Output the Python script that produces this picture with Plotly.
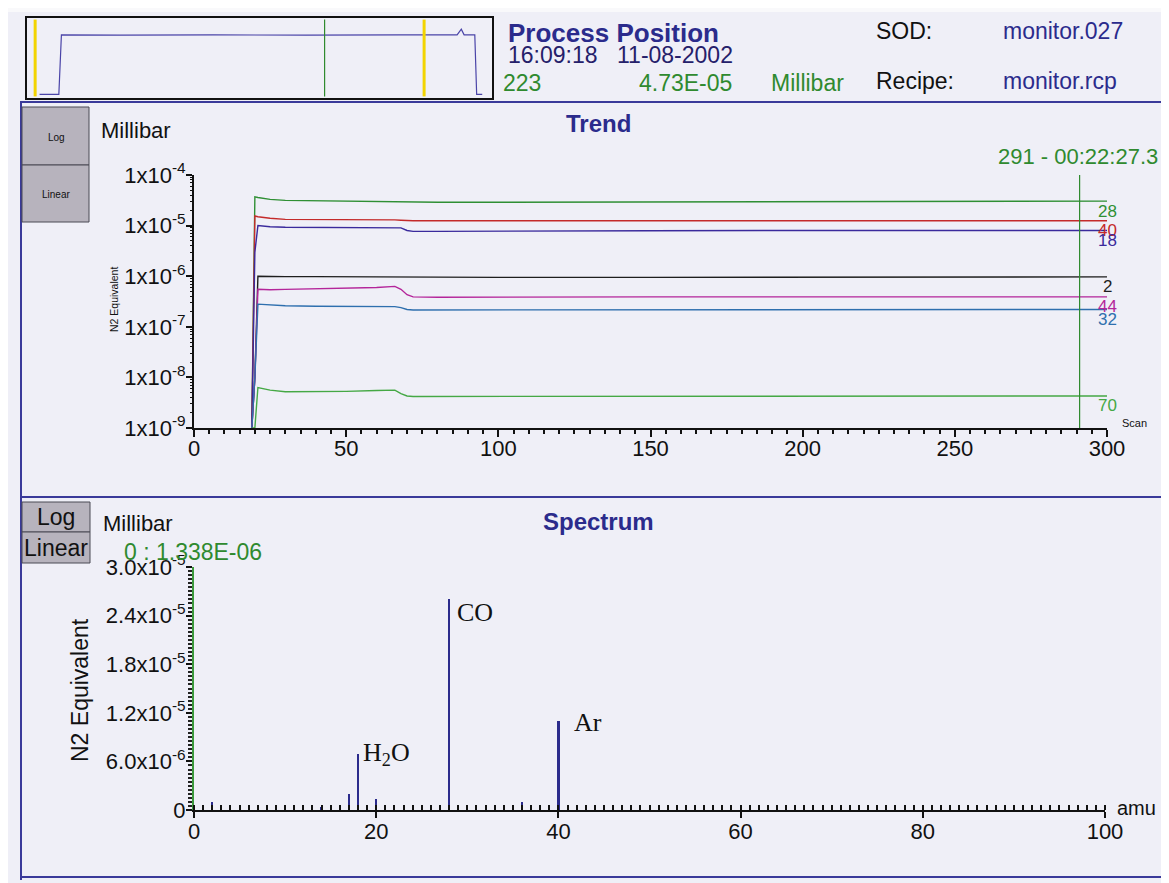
import math
import plotly.graph_objects as go

# browser body margin is 8px: figure placed at (8, 8) inside the window
OFF = 8
W, H = 1169 - 2 * OFF, 883 - OFF

# ---------------- data ----------------
scans = [19, 20, 21, 25, 30, 40, 50, 60, 66, 68, 70, 72, 80, 100, 150, 200, 250, 300]
trend_masses = ["28", "40", "18", "2", "44", "32", "70"]
trend_28 = [1e-9, 3.7e-5, 3.6e-5, 3.3e-5, 3.15e-5, 3.1e-5, 3.05e-5, 3.0e-5, 3.0e-5, 2.95e-5, 2.9e-5, 2.9e-5, 2.9e-5, 2.9e-5, 2.95e-5, 3.0e-5, 3.0e-5, 3.05e-5]
trend_40 = [1e-9, 1.55e-5, 1.5e-5, 1.4e-5, 1.33e-5, 1.33e-5, 1.33e-5, 1.3e-5, 1.3e-5, 1.28e-5, 1.26e-5, 1.25e-5, 1.25e-5, 1.25e-5, 1.25e-5, 1.25e-5, 1.25e-5, 1.25e-5]
trend_18 = [1e-9, 3e-6, 1.0e-5, 9.5e-6, 9.3e-6, 9.3e-6, 9.3e-6, 9.3e-6, 9.3e-6, 9.0e-6, 8.0e-6, 7.7e-6, 7.7e-6, 7.8e-6, 7.9e-6, 8.0e-6, 8.0e-6, 8.0e-6]
trend_2 = [1e-9, 1e-8, 1.0e-6, 9.8e-7, 9.8e-7, 9.8e-7, 9.7e-7, 9.7e-7, 9.7e-7, 9.6e-7, 9.6e-7, 9.6e-7, 9.6e-7, 9.5e-7, 9.5e-7, 9.6e-7, 9.6e-7, 9.7e-7]
trend_44 = [1e-9, 1e-8, 5.5e-7, 5.4e-7, 5.5e-7, 5.6e-7, 5.8e-7, 6.0e-7, 6.3e-7, 5.5e-7, 4.3e-7, 3.9e-7, 3.85e-7, 3.9e-7, 3.9e-7, 3.9e-7, 3.9e-7, 3.9e-7]
trend_32 = [1e-9, 1e-8, 2.8e-7, 2.7e-7, 2.6e-7, 2.55e-7, 2.5e-7, 2.5e-7, 2.5e-7, 2.4e-7, 2.2e-7, 2.15e-7, 2.15e-7, 2.15e-7, 2.15e-7, 2.2e-7, 2.2e-7, 2.2e-7]
trend_70 = [1e-9, 1e-9, 6.3e-9, 5.6e-9, 5.2e-9, 5.2e-9, 5.3e-9, 5.5e-9, 5.6e-9, 4.8e-9, 4.3e-9, 4.2e-9, 4.2e-9, 4.2e-9, 4.3e-9, 4.3e-9, 4.3e-9, 4.3e-9]
trend_values = [trend_28, trend_40, trend_18, trend_2, trend_44, trend_32, trend_70]
trend_colors = ["#2f8f34", "#c42a2a", "#3a2a9c", "#1e1e1e", "#b4259a", "#2e6fae", "#45a845"]
trend_cursor_scan = 291
trend_cursor_label = "291 - 00:22:27.3"

trend_yticks = [1e-9, 1e-8, 1e-7, 1e-6, 1e-5, 1e-4]
trend_yticktext = ["1x10<sup>-9</sup>", "1x10<sup>-8</sup>", "1x10<sup>-7</sup>",
                   "1x10<sup>-6</sup>", "1x10<sup>-5</sup>", "1x10<sup>-4</sup>"]
trend_xticks = [0, 50, 100, 150, 200, 250, 300]

spec_amu = [2, 12, 14, 16, 17, 18, 20, 28, 29, 36, 38, 40, 44]
spec_vals = [1.0e-6, 0.5e-6, 0.4e-6, 0.4e-6, 2.0e-6, 6.9e-6, 1.4e-6, 2.6e-5, 0.6e-6, 1.0e-6, 0.4e-6, 1.1e-5, 0.5e-6]
spec_labels = {28: "CO", 18: "H<sub>2</sub>O", 40: "Ar"}
spec_yticks = [0, 6e-6, 1.2e-5, 1.8e-5, 2.4e-5, 3.0e-5]
spec_yticktext = ["0", "6.0x10<sup>-6</sup>", "1.2x10<sup>-5</sup>", "1.8x10<sup>-5</sup>",
                  "2.4x10<sup>-5</sup>", "3.0x10<sup>-5</sup>"]

ov_x = [2.7, 6.85, 7.4, 20, 40, 60, 80, 92.5, 93.4, 94.0, 96.3, 96.7, 97.9]
ov_y = [0.046, 0.046, 0.79, 0.785, 0.79, 0.785, 0.79, 0.79, 0.86, 0.79, 0.79, 0.046, 0.046]
ov_yellow = [1.75, 85.4]
ov_green = 64.0


def px(x):
    return (x - OFF) / W


def py(y):
    return 1 - (y - OFF) / H


FONT = "Liberation Sans, Arial, sans-serif"
NAVY = "#2b2b8c"
DNAVY = "#25206a"
GREEN = "#2f8a2f"
BG = "#efeff7"

fig = go.Figure()

for name, vals, col in zip(trend_masses, trend_values, trend_colors):
    fig.add_trace(go.Scatter(x=scans, y=vals, mode="lines", line=dict(color=col, width=1.4),
                             xaxis="x", yaxis="y", showlegend=False, name=name))
fig.add_trace(go.Scatter(x=[trend_cursor_scan, trend_cursor_scan], y=[1e-9, 1.1e-4], mode="lines",
                         line=dict(color="#2f8a2f", width=1.2), xaxis="x", yaxis="y",
                         showlegend=False, cliponaxis=False))

fig.add_trace(go.Bar(x=spec_amu, y=spec_vals, width=0.25, marker=dict(color=NAVY, line=dict(width=0)),
                     xaxis="x2", yaxis="y2", showlegend=False))

fig.add_trace(go.Scatter(x=ov_x, y=ov_y, mode="lines", line=dict(color="#4a44a8", width=1.2),
                         xaxis="x3", yaxis="y3", showlegend=False))
for xv in ov_yellow:
    fig.add_trace(go.Scatter(x=[xv, xv], y=[0.02, 0.98], mode="lines", line=dict(color="#f2d400", width=3),
                             xaxis="x3", yaxis="y3", showlegend=False))
fig.add_trace(go.Scatter(x=[ov_green, ov_green], y=[0.02, 0.98], mode="lines", line=dict(color="#2f8a2f", width=1.2),
                         xaxis="x3", yaxis="y3", showlegend=False))

tickfont = dict(family=FONT, size=22, color="#111")
minor_log_ticks = [m * 10 ** e for e in range(-9, -4) for m in range(2, 10)]

fig.update_layout(
    width=W, height=H, margin=dict(l=0, r=0, t=0, b=0, autoexpand=False),
    paper_bgcolor=BG, plot_bgcolor="rgba(0,0,0,0)",
    font=dict(family=FONT),
    bargap=0,
    xaxis=dict(domain=[px(194), px(1107)], anchor="y", range=[0, 300], tickvals=trend_xticks,
               ticks="outside", ticklen=7, tickwidth=1.5, tickcolor="#111", showline=True, linecolor="#111",
               linewidth=2, showgrid=False, zeroline=False, tickfont=tickfont, automargin=False,
               ticklabelstandoff=-7,
               minor=dict(dtick=5, ticks="outside", ticklen=4, tickcolor="#111", showgrid=False)),
    yaxis=dict(domain=[py(428), py(175)], anchor="x", type="log", range=[-9, -4],
               tickvals=trend_yticks, ticktext=trend_yticktext, ticks="outside", ticklen=6, tickwidth=1.5,
               tickcolor="#111", showline=True, linecolor="#111", linewidth=2, showgrid=False,
               zeroline=False, tickfont=tickfont, automargin=False, ticklabelstandoff=-4),
    yaxis4=dict(domain=[py(428), py(175)], anchor="x", overlaying="y", type="log", range=[-9, -4],
                tickvals=minor_log_ticks, ticks="outside", ticklen=3, tickwidth=1, tickcolor="#111",
                showticklabels=False, showline=False, showgrid=False, zeroline=False, automargin=False),
    xaxis2=dict(domain=[px(194), px(1105)], anchor="y2", range=[0, 100], dtick=20, tick0=0,
                ticks="outside", ticklen=6, tickwidth=1.5, tickcolor="#111", showline=True,
                linecolor="#111", linewidth=2, showgrid=False, zeroline=False, tickfont=tickfont,
                automargin=False, ticklabelstandoff=-5,
                minor=dict(dtick=1, ticks="inside", ticklen=5, tickcolor="#111", showgrid=False)),
    yaxis2=dict(domain=[py(810), py(567)], anchor="x2", range=[0, 3.0e-5],
                tickvals=spec_yticks, ticktext=spec_yticktext, ticks="outside", ticklen=6, tickwidth=1.5,
                tickcolor="#111", showline=True, linecolor="#3c9a3c", linewidth=2, showgrid=False,
                zeroline=False, tickfont=tickfont, automargin=False, ticklabelstandoff=-4,
                minor=dict(dtick=5e-7, ticks="outside", ticklen=4, tickcolor="#222", showgrid=False)),
    xaxis3=dict(domain=[px(27), px(492)], anchor="y3", range=[0, 100], showticklabels=False, ticks="",
                showline=True, mirror=True, linecolor="#111", linewidth=2, showgrid=False, zeroline=False,
                automargin=False),
    yaxis3=dict(domain=[py(98), py(18)], anchor="x3", range=[0, 1], showticklabels=False, ticks="",
                showline=True, mirror=True, linecolor="#111", linewidth=2, showgrid=False, zeroline=False,
                automargin=False),
)
fig.add_trace(go.Scatter(x=[trend_xticks[0]], y=[trend_yticks[0]], mode="markers", marker=dict(opacity=0),
                         xaxis="x", yaxis="y4", showlegend=False, hoverinfo="skip"))

shapes = []
shapes.append(dict(type="rect", xref="paper", yref="paper", x0=0, x1=1, y0=py(12), y1=1,
                   fillcolor="#f9f9fb", line=dict(width=0), layer="below"))
frame = dict(color="#3a3a9a", width=2)
shapes.append(dict(type="line", xref="paper", yref="paper", x0=px(20), x1=1, y0=py(102), y1=py(102), line=frame))
shapes.append(dict(type="line", xref="paper", yref="paper", x0=px(21), x1=px(21), y0=py(102), y1=py(880), line=frame))
shapes.append(dict(type="line", xref="paper", yref="paper", x0=px(21), x1=1, y0=py(497), y1=py(497), line=frame))
shapes.append(dict(type="line", xref="paper", yref="paper", x0=px(21), x1=1, y0=py(877), y1=py(877), line=frame))
btn = dict(fillcolor="#b7b3bd", line=dict(color="#4a4a55", width=1))
for (x0, y0, x1, y1) in [(22, 107, 89, 165), (22, 165, 89, 222), (22, 502, 90, 532), (22, 532, 90, 563)]:
    shapes.append(dict(type="rect", xref="paper", yref="paper", x0=px(x0), x1=px(x1), y0=py(y1), y1=py(y0), **btn))
fig.update_layout(shapes=shapes)

ann = []


def text(x, y, s, size, color="#111", xanchor="left", bold=False, family=FONT, angle=0):
    if bold:
        s = "<b>" + s + "</b>"
    ann.append(dict(xref="paper", yref="paper", x=px(x), y=py(y), text=s, showarrow=False,
                    xanchor=xanchor, yanchor="middle", textangle=angle,
                    font=dict(family=family, size=size, color=color)))


text(506, 33, "Process Position", 26, NAVY, bold=True)
text(506, 55, "16:09:18", 23, DNAVY)
text(615, 55, "11-08-2002", 23, DNAVY)
text(501, 83, "223", 23, GREEN)
text(637, 83, "4.73E-05", 23, GREEN)
text(769, 83, "Millibar", 23, GREEN)
text(874, 31, "SOD:", 23, "#111")
text(1001, 31, "monitor.027", 23, NAVY)
text(874, 81, "Recipe:", 23, "#111")
text(1001, 81, "monitor.rcp", 23, NAVY)

text(56, 137, "Log", 10, "#111", xanchor="center")
text(56, 194, "Linear", 10, "#111", xanchor="center")
text(99, 130, "Millibar", 22, "#111")
text(598, 123, "Trend", 24, NAVY, xanchor="center", bold=True)
text(114, 300, "N2 Equivalent", 10.5, "#111", xanchor="center", angle=-90)
text(1120, 423, "Scan", 11, "#111")

text(56, 517, "Log", 23, "#111", xanchor="center")
text(56, 548, "Linear", 23, "#111", xanchor="center")
text(101, 523, "Millibar", 22, "#111")
text(598, 521, "Spectrum", 24, NAVY, xanchor="center", bold=True)
text(122, 552, "0 : 1.338E-06", 23, GREEN)
text(80, 690, "N2 Equivalent", 23, "#111", xanchor="center", angle=-90)
text(1158, 808, "amu", 20, "#111", xanchor="right")
text(1160, 157, trend_cursor_label, 22, GREEN, xanchor="right")

fig.update_layout(annotations=ann)

for name, vals, col in zip(trend_masses, trend_values, trend_colors):
    fig.add_annotation(x=scans[-1], y=math.log10(vals[-1]), xref="x", yref="y", text=name,
                       showarrow=False, xanchor="center", yanchor="middle", yshift=-10,
                       font=dict(family=FONT, size=17, color=col))

xshifts = {28: 6, 18: 3, 40: 14}
yshifts = {28: -13, 18: 0, 40: -2}
for a, v in zip(spec_amu, spec_vals):
    if a in spec_labels:
        fig.add_annotation(x=a, y=v, xref="x2", yref="y2", text=spec_labels[a], showarrow=False,
                           xanchor="left", yanchor="middle", xshift=xshifts[a], yshift=yshifts[a],
                           font=dict(family="Liberation Serif, Times New Roman, serif", size=26, color="#111"))

fig.write_html("out.html")
